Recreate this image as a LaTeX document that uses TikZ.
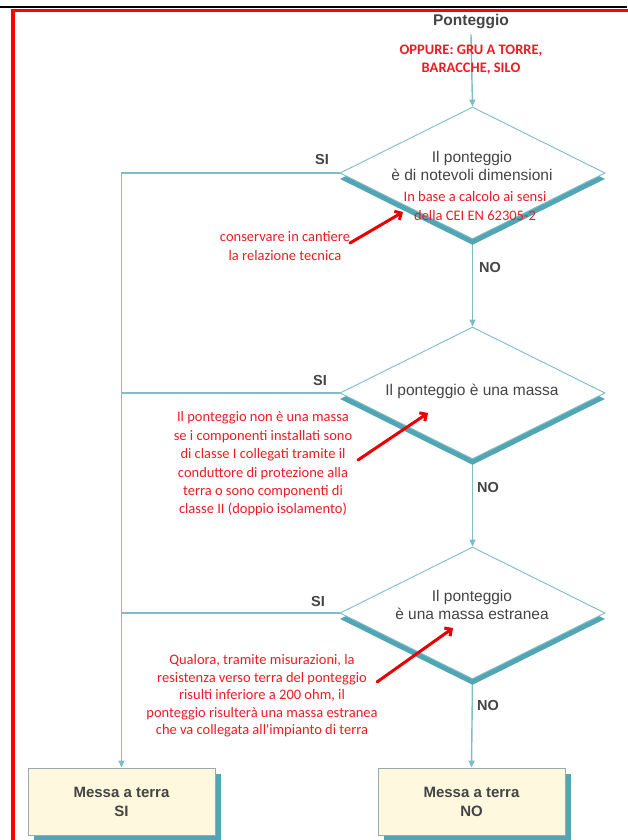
\documentclass[tikz,border=0pt]{standalone}
\usepackage{fontspec}
\setmainfont{Liberation Sans}
\newfontfamily\calfont{Carlito}
\usetikzlibrary{shapes.geometric,arrows.meta,shadows,backgrounds}
\definecolor{tealline}{RGB}{125,188,200}
\definecolor{tealsh}{RGB}{82,166,180}
\definecolor{graytxt}{RGB}{68,68,68}
\definecolor{redtxt}{RGB}{236,28,36}
\definecolor{redarr}{RGB}{232,0,0}
\definecolor{cream}{RGB}{253,248,222}
\definecolor{boxborder}{RGB}{150,172,172}
\tikzset{
  decision/.style={diamond, draw=tealline, line width=0.9pt, fill=white,
    minimum width=265pt, minimum height=132pt, inner sep=0pt,
    drop shadow={shadow xshift=0pt, shadow yshift=-6pt, fill=tealsh, opacity=1}},
  endbox/.style={rectangle, draw=boxborder, line width=0.8pt, fill=cream,
    minimum width=187pt, minimum height=67pt, inner sep=0pt, align=center,
    text=graytxt, font=\bfseries\fontsize{15}{19}\selectfont,
    drop shadow={shadow xshift=6pt, shadow yshift=-6pt, fill=tealsh, opacity=1}},
  gtext/.style={text=graytxt, font=\fontsize{15.5}{18}\selectfont, align=center, inner sep=0pt},
  lbl/.style={text=graytxt, font=\bfseries\fontsize{14.5}{16}\selectfont, inner sep=0pt},
  rtext/.style={text=redtxt, font=\calfont\fontsize{14.5}{18.4}\selectfont, align=center, inner sep=0pt},
  rbold/.style={text=redtxt, font=\calfont\bfseries\fontsize{14.5}{17.5}\selectfont, align=center, inner sep=0pt},
  conn/.style={draw=tealline, line width=1.4pt, -{Triangle[width=6pt,length=7pt]}},
  plainconn/.style={draw=tealline, line width=1.4pt},
  redarrow/.style={draw=redarr, line width=3pt, line cap=round, -{Straight Barb[length=5pt,width=10pt]}}
}
\begin{document}
\begin{tikzpicture}[x=1pt,y=-1pt]
\useasboundingbox (0,0) rectangle (627,840);
\begin{pgfonlayer}{background}
\fill[white] (0,0) rectangle (627,840);
\end{pgfonlayer}
% frame
\draw[black, line width=2pt] (0,7.5) -- (627,7.5);
\draw[red, line width=3.6pt] (13,841) -- (13,10.6) -- (628,10.6);

% decisions
\node[decision] (d1) at (472.5,173) {};
\node[decision] (d2) at (472.5,393) {};
\node[decision] (d3) at (472.5,613) {};

\node[gtext] (t1) at (472,166) {Il ponteggio\\è di notevoli dimensioni};
\node[rtext] (r1) at (475,206) {In base a calcolo ai sensi\\della CEI EN 62305-2};
\node[gtext] (t2) at (472,391) {Il ponteggio è una massa};
\node[gtext] (t3) at (472,604.5) {Il ponteggio\\è una massa estranea};

% start
\node[text=graytxt, font=\bfseries\fontsize{15.5}{18}\selectfont, inner sep=0pt] (pont) at (471,22) {Ponteggio};
\node[rbold] (opp) at (471,59.5) {OPPURE: GRU A TORRE,\\BARACCHE, SILO};

% end boxes
\node[endbox] (bsi) at (121.5,801.5) {Messa a terra\\SI};
\node[endbox] (bno) at (471.5,801.5) {Messa a terra\\NO};

% connectors
\begin{pgfonlayer}{background}
\draw[conn] ([yshift=-5pt]pont.south) -- (d1.north);
\draw[conn] (d1.south) -- (d2.north);
\draw[conn] (d2.south) -- (d3.north);
\draw[conn] (d3.south) -- (bno.north);
\draw[conn] (d1.west) -| (bsi.north);
\draw[plainconn] (d2.west) -- (d2.west -| bsi.north);
\draw[plainconn] (d3.west) -- (d3.west -| bsi.north);
\end{pgfonlayer}

% edge labels
\node[lbl] (si1) at (322,160) {SI};
\node[lbl] (si2) at (320,381) {SI};
\node[lbl] (si3) at (318,602) {SI};
\node[lbl] (no1) at (490,268) {NO};
\node[lbl] (no2) at (488,488) {NO};
\node[lbl] (no3) at (488,706) {NO};

% red notes
\node[rtext] (c1) at (285,246) {conservare in cantiere\\la relazione tecnica};
\coordinate (c1s) at (350,243);
\coordinate (c1e) at (403,212);
\draw[redarrow] (c1s) -- (c1e);

\node[rtext] (c2) at (263,464) {Il ponteggio non è una massa\\se i componenti installati sono\\di classe I collegati tramite il\\conduttore di protezione alla\\terra o sono componenti di\\classe II (doppio isolamento)};
\coordinate (c2s) at (358,460);
\coordinate (c2e) at (428,413);
\draw[redarrow] (c2s) -- (c2e);

\node[rtext, font=\calfont\fontsize{14.5}{17.6}\selectfont] (c3) at (262,696) {Qualora, tramite misurazioni, la\\resistenza verso terra del ponteggio\\risulti inferiore a 200 ohm, il\\ponteggio risulterà una massa estranea\\che va collegata all\textquotesingle impianto di terra};
\coordinate (c3s) at (377,682);
\coordinate (c3e) at (453,628);
\draw[redarrow] (c3s) -- (c3e);
\end{tikzpicture}
\end{document}
